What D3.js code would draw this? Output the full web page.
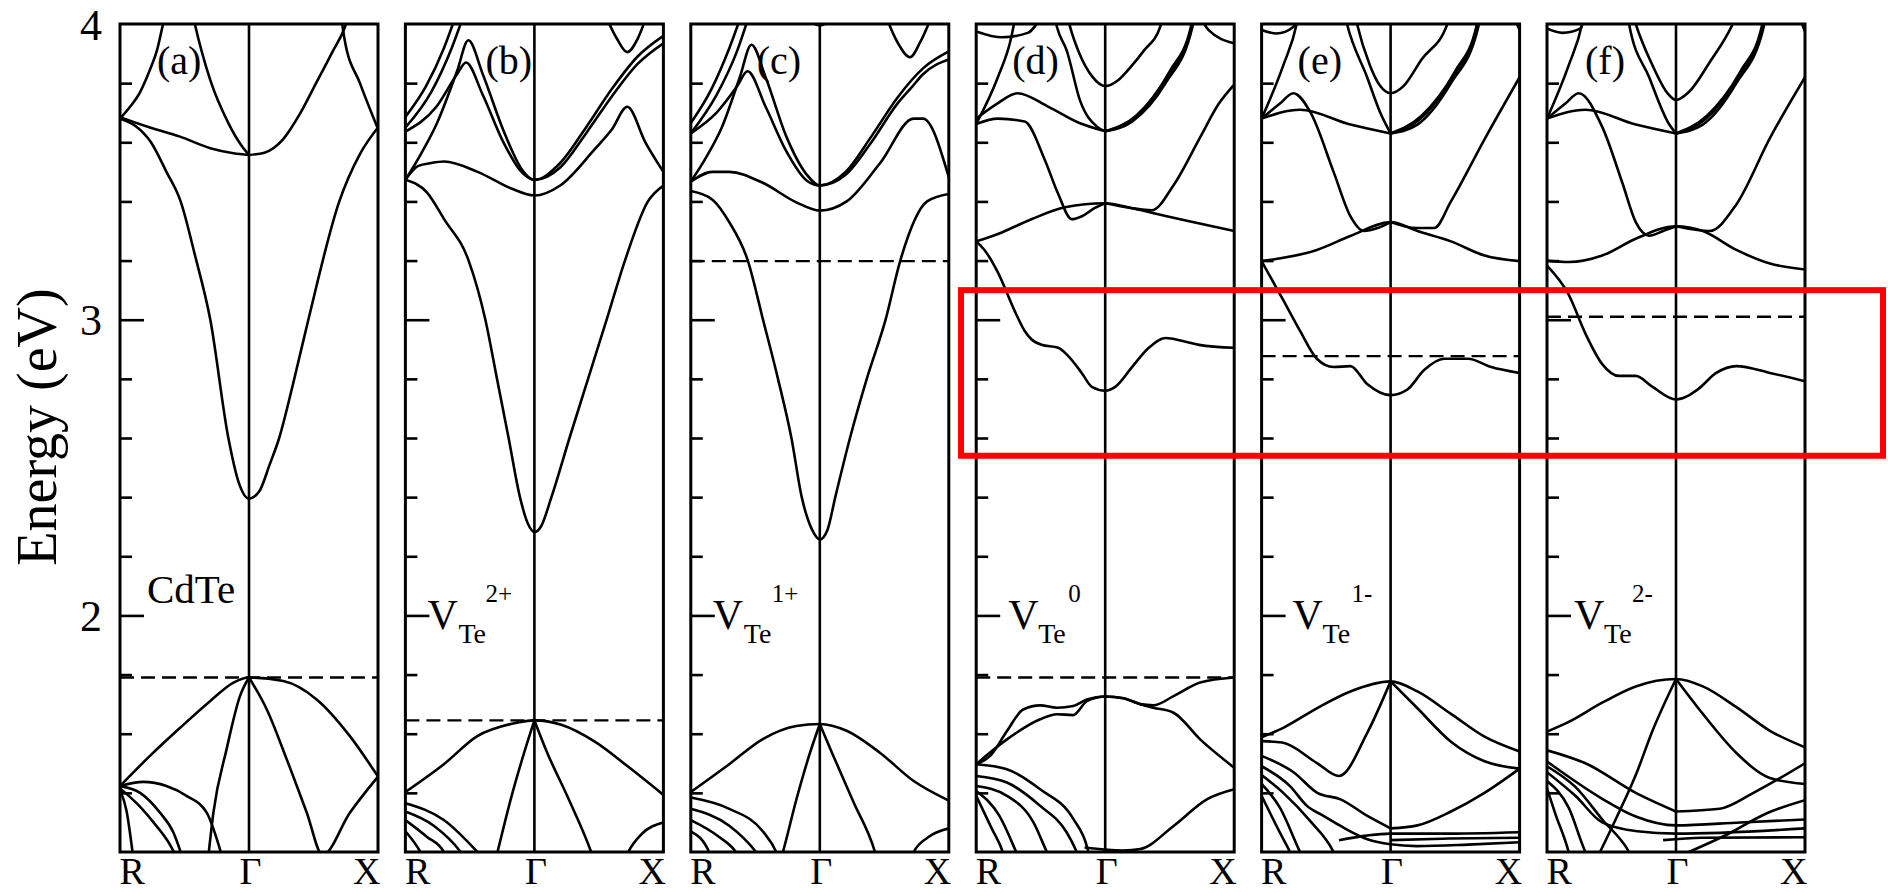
<!DOCTYPE html>
<html>
<head>
<meta charset="utf-8">
<script src="https://cdn.jsdelivr.net/npm/d3@7/dist/d3.min.js"></script>
<style>
  body { margin: 0; background: #fff; }
  svg text { font-family: "Liberation Serif", "Times New Roman", serif; fill: #000; }
</style>
</head>
<body>
<svg id="chart" width="1888" height="893"></svg>
<script>
// ---- data (k: R=0, Gamma=0.5, X=1; energies in eV) ----
const kLabels = ["R", "\u0393", "X"];
const kTicks = [0, 0.5, 1];
const majorTicks = [2, 3, 4];
const minorTicks = [1.4, 1.6, 1.8, 2.2, 2.4, 2.6, 2.8, 3.2, 3.4, 3.6, 3.8];
const panelLetters = ["(a)", "(b)", "(c)", "(d)", "(e)", "(f)"];
const charges = [null, "2+", "1+", "0", "1-", "2-"];
const fermiLevels = [1.79, 1.645, 3.198, 1.79, 2.877, 3.01];
const highlightRange = [2.54, 3.1];

const bandsA = [
  [[0,3.68],[0.06,3.655],[0.12,3.6],[0.18,3.5],[0.235,3.4],[0.29,3.22],[0.35,3.0],[0.42,2.6],[0.46,2.45],[0.5,2.395],[0.54,2.42],[0.58,2.51],[0.617,2.6],[0.67,2.78],[0.73,3.0],[0.85,3.4],[0.93,3.56],[1,3.65]],
  [[0,3.685],[0.116,3.65],[0.23,3.62],[0.35,3.58],[0.44,3.563],[0.5,3.557]],
  [[0,3.68],[0.039,3.72],[0.078,3.77],[0.116,3.845],[0.143,3.91],[0.167,4.0],[0.19,4.08]],
  [[0.27,4.08],[0.29,4.0],[0.35,3.81],[0.42,3.665],[0.47,3.59],[0.5,3.557]],
  [[0.5,3.557],[0.56,3.565],[0.632,3.61],[0.7,3.7],[0.76,3.8],[0.826,3.91],[0.872,3.99],[0.89,4.04]],
  [[0.855,4.04],[0.87,3.95],[0.93,3.8],[1,3.645]],
  [[0,1.423],[0.116,1.525],[0.233,1.62],[0.349,1.71],[0.44,1.773],[0.5,1.79],[0.633,1.778],[0.762,1.716],[0.891,1.592],[1,1.455]],
  [[0.343,1.19],[0.362,1.333],[0.413,1.547],[0.465,1.727],[0.5,1.79]],
  [[0.5,1.79],[0.569,1.682],[0.646,1.514],[0.724,1.333],[0.785,1.19],[0.891,1.333],[1,1.455]],
  [[0,1.423],[0.09,1.437],[0.18,1.423],[0.258,1.39],[0.336,1.333],[0.394,1.19]],
  [[0,1.423],[0.078,1.4],[0.155,1.333],[0.207,1.266],[0.239,1.19]],
  [[0,1.415],[0.07,1.36],[0.13,1.3],[0.19,1.23],[0.215,1.19]],
  [[0,1.41],[0.025,1.34],[0.05,1.19]]
];

const bandsB = [
  [[0,3.473],[0.084,3.43],[0.15,3.34],[0.245,3.2],[0.31,3.0],[0.355,2.8],[0.4,2.6],[0.444,2.4],[0.475,2.31],[0.5,2.282],[0.525,2.3],[0.566,2.4],[0.636,2.6],[0.708,2.8],[0.78,3.0],[0.851,3.2],[0.94,3.4],[1,3.454]],
  [[0,3.473],[0.05,3.52],[0.1,3.53],[0.15,3.535],[0.28,3.5],[0.41,3.444],[0.5,3.42],[0.6,3.454],[0.734,3.577],[0.8,3.643],[0.86,3.72],[0.93,3.6],[1,3.5]],
  [[0,3.473],[0.06,3.56],[0.12,3.66],[0.2,3.84],[0.244,3.945],[0.3,3.83],[0.38,3.64],[0.45,3.51],[0.5,3.473],[0.6,3.53],[0.7,3.65],[0.8,3.78],[0.9,3.89],[1,3.96]],
  [[0,3.636],[0.12,3.72],[0.2,3.83],[0.235,3.87],[0.3,3.76],[0.38,3.6],[0.45,3.5],[0.5,3.473],[0.6,3.515],[0.7,3.63],[0.8,3.755],[0.9,3.865],[1,3.935]],
  [[0,3.686],[0.08,3.79],[0.15,3.92],[0.2,4.04]],
  [[0,3.65],[0.1,3.77],[0.18,3.92],[0.23,4.04]],
  [[0.77,4.04],[0.82,3.95],[0.86,3.905],[0.9,3.95],[0.94,4.04]],
  [[0,1.403],[0.149,1.497],[0.279,1.592],[0.409,1.633],[0.5,1.645],[0.604,1.63],[0.734,1.573],[0.864,1.488],[1,1.393]],
  [[0.34,1.14],[0.357,1.2],[0.41,1.384],[0.46,1.535],[0.5,1.645]],
  [[0.5,1.645],[0.55,1.535],[0.63,1.384],[0.72,1.2],[0.74,1.15]],
  [[0.84,1.15],[0.864,1.2],[0.915,1.26],[1,1.3]],
  [[0,1.365],[0.149,1.308],[0.279,1.2],[0.3,1.18]],
  [[0,1.337],[0.11,1.289],[0.214,1.2],[0.23,1.18]],
  [[0,1.308],[0.084,1.251],[0.149,1.2],[0.16,1.18]],
  [[0,1.27],[0.058,1.2],[0.07,1.18]]
];

const bandsC = [
  [[0,3.435],[0.084,3.406],[0.149,3.33],[0.221,3.2],[0.28,3.0],[0.338,2.8],[0.39,2.6],[0.43,2.4],[0.47,2.29],[0.5,2.257],[0.53,2.29],[0.56,2.4],[0.617,2.6],[0.682,2.8],[0.755,3.0],[0.812,3.2],[0.916,3.4],[1,3.425]],
  [[0,3.467],[0.084,3.5],[0.149,3.5],[0.279,3.463],[0.409,3.397],[0.5,3.369],[0.604,3.4],[0.734,3.53],[0.864,3.68],[0.9,3.68],[1,3.482]],
  [[0,3.467],[0.06,3.55],[0.12,3.65],[0.19,3.82],[0.235,3.93],[0.29,3.82],[0.37,3.62],[0.45,3.49],[0.5,3.454],[0.6,3.5],[0.7,3.62],[0.8,3.75],[0.9,3.85],[1,3.907]],
  [[0,3.63],[0.1,3.7],[0.18,3.79],[0.22,3.84],[0.29,3.72],[0.37,3.57],[0.45,3.47],[0.5,3.454],[0.6,3.49],[0.7,3.6],[0.8,3.73],[0.86,3.79],[0.9,3.83],[1,3.88]],
  [[0,3.665],[0.08,3.78],[0.15,3.92],[0.2,4.04]],
  [[0,3.63],[0.1,3.76],[0.18,3.91],[0.23,4.04]],
  [[0.75,4.04],[0.8,3.94],[0.85,3.888],[0.89,3.94],[0.94,4.04]],
  [[0.44,4.03],[0.5,3.995],[0.56,4.03]],
  [[0,1.403],[0.149,1.497],[0.279,1.582],[0.409,1.626],[0.5,1.633],[0.604,1.61],[0.734,1.535],[0.864,1.44],[1,1.374]],
  [[0.34,1.15],[0.357,1.2],[0.41,1.38],[0.46,1.53],[0.5,1.633]],
  [[0.5,1.633],[0.55,1.53],[0.63,1.37],[0.714,1.2],[0.73,1.15]],
  [[0.84,1.15],[0.864,1.2],[0.92,1.25],[1,1.28]],
  [[0,1.384],[0.149,1.346],[0.279,1.27],[0.331,1.2],[0.34,1.18]],
  [[0,1.346],[0.149,1.289],[0.253,1.2],[0.27,1.18]],
  [[0,1.308],[0.11,1.251],[0.175,1.2],[0.19,1.18]],
  [[0,1.27],[0.071,1.2],[0.08,1.18]]
];

const bandsD = [
  [[0,3.265],[0.032,3.236],[0.084,3.16],[0.149,3.03],[0.188,2.962],[0.214,2.934],[0.253,2.915],[0.318,2.905],[0.357,2.877],[0.409,2.82],[0.448,2.773],[0.5,2.76],[0.539,2.773],[0.604,2.84],[0.669,2.905],[0.734,2.938],[0.8,2.928],[0.864,2.915],[1,2.905]],
  [[0,3.265],[0.084,3.29],[0.214,3.34],[0.344,3.38],[0.5,3.394],[0.6,3.378],[0.68,3.362],[0.83,3.332],[1,3.3]],
  [[0,3.662],[0.084,3.68],[0.188,3.67],[0.266,3.54],[0.318,3.425],[0.37,3.34],[0.41,3.35],[0.46,3.378],[0.5,3.394]],
  [[0.5,3.394],[0.6,3.378],[0.68,3.37],[0.765,3.455],[0.87,3.62],[0.94,3.73],[1,3.795]],
  [[0,3.68],[0.08,3.73],[0.16,3.766],[0.28,3.72],[0.4,3.665],[0.5,3.637]],
  [[0.3,4.04],[0.313,3.99],[0.351,3.91],[0.403,3.74],[0.468,3.653],[0.5,3.637]],
  [[0.35,4.04],[0.364,3.99],[0.4,3.9],[0.45,3.822],[0.5,3.79],[0.55,3.81],[0.6,3.856],[0.65,3.91],[0.713,3.99],[0.73,4.04]],
  [[0.5,3.637],[0.604,3.67],[0.734,3.8],[0.838,3.99],[0.85,4.04]],
  [[0.5,3.637],[0.61,3.68],[0.74,3.82],[0.835,3.99],[0.845,4.04]],
  [[0.5,3.637],[0.62,3.69],[0.75,3.84],[0.832,3.99],[0.84,4.04]],
  [[0,3.662],[0.084,3.82],[0.136,3.955],[0.155,4.04]],
  [[0,3.975],[0.1,3.955],[0.2,3.97],[0.26,4.04]],
  [[0.86,4.04],[0.9,3.98],[1,3.935]],
  [[0,1.497],[0.054,1.525],[0.12,1.61],[0.182,1.682],[0.248,1.696],[0.313,1.688],[0.376,1.694],[0.429,1.716],[0.5,1.726],[0.571,1.72],[0.636,1.7],[0.687,1.696],[0.765,1.727],[0.868,1.773],[1,1.79]],
  [[0,1.497],[0.119,1.581],[0.248,1.649],[0.313,1.666],[0.375,1.663],[0.429,1.71],[0.5,1.726],[0.571,1.72],[0.636,1.7],[0.687,1.688],[0.765,1.671],[0.868,1.581],[1,1.485]],
  [[0.42,1.215],[0.5,1.208],[0.57,1.205],[0.636,1.21],[0.765,1.288],[0.894,1.378],[1,1.412]],
  [[0,1.497],[0.119,1.48],[0.248,1.412],[0.377,1.311],[0.43,1.216],[0.44,1.18]],
  [[0,1.457],[0.119,1.435],[0.248,1.356],[0.351,1.266],[0.39,1.2],[0.4,1.18]],
  [[0,1.423],[0.119,1.39],[0.222,1.3],[0.274,1.2],[0.285,1.18]],
  [[0,1.406],[0.09,1.322],[0.155,1.2],[0.165,1.18]],
  [[0,1.39],[0.06,1.28],[0.103,1.2],[0.11,1.18]]
];

const bandsE = [
  [[0,3.198],[0.084,3.066],[0.149,2.962],[0.214,2.868],[0.279,2.84],[0.344,2.843],[0.409,2.783],[0.5,2.745],[0.565,2.764],[0.63,2.83],[0.708,2.868],[0.8,2.868],[0.89,2.84],[1,2.82]],
  [[0,3.198],[0.214,3.236],[0.344,3.283],[0.5,3.33],[0.604,3.3],[0.734,3.265],[0.864,3.217],[1,3.198]],
  [[0,3.68],[0.07,3.73],[0.123,3.766],[0.19,3.7],[0.279,3.5],[0.344,3.35],[0.396,3.3],[0.45,3.31],[0.5,3.33]],
  [[0.5,3.33],[0.6,3.31],[0.669,3.31],[0.734,3.4],[0.864,3.61],[1,3.82]],
  [[0,3.68],[0.149,3.71],[0.344,3.66],[0.5,3.63]],
  [[0.32,4.04],[0.331,4.0],[0.409,3.82],[0.46,3.7],[0.5,3.63]],
  [[0.36,4.04],[0.37,4.0],[0.42,3.86],[0.46,3.79],[0.5,3.766],[0.55,3.79],[0.62,3.88],[0.72,4.0],[0.735,4.04]],
  [[0.5,3.63],[0.604,3.66],[0.734,3.8],[0.84,3.99],[0.85,4.04]],
  [[0.5,3.63],[0.61,3.675],[0.74,3.82],[0.836,3.99],[0.845,4.04]],
  [[0.5,3.63],[0.62,3.69],[0.75,3.84],[0.832,3.99],[0.84,4.04]],
  [[0,3.68],[0.084,3.86],[0.136,4.0],[0.145,4.04]],
  [[0,3.98],[0.058,3.968],[0.123,3.99],[0.14,4.04]],
  [[0.97,4.04],[1,3.98]],
  [[0,1.588],[0.084,1.62],[0.214,1.686],[0.344,1.743],[0.5,1.777],[0.604,1.743],[0.734,1.667],[0.864,1.59],[1,1.54]],
  [[0,1.575],[0.08,1.57],[0.216,1.5],[0.3,1.457],[0.41,1.604],[0.5,1.777]],
  [[0.5,1.777],[0.604,1.686],[0.734,1.573],[0.864,1.507],[1,1.482]],
  [[0.5,1.28],[0.604,1.29],[0.734,1.337],[0.864,1.4],[1,1.482]],
  [[0,1.525],[0.125,1.469],[0.216,1.4],[0.306,1.378],[0.41,1.322],[0.5,1.28]],
  [[0,1.49],[0.11,1.423],[0.176,1.356],[0.24,1.322],[0.306,1.288],[0.41,1.243],[0.5,1.226],[0.6,1.22],[0.8,1.225],[1,1.233]],
  [[0.3,1.24],[0.5,1.262],[0.7,1.262],[1,1.267]],
  [[0.5,1.24],[0.7,1.245],[1,1.248]],
  [[0,1.46],[0.084,1.4],[0.188,1.305],[0.279,1.2],[0.29,1.18]],
  [[0,1.43],[0.071,1.35],[0.149,1.2],[0.16,1.18]],
  [[0,1.39],[0.07,1.267],[0.11,1.2],[0.12,1.18]]
];

const bandsF = [
  [[0,3.183],[0.084,3.085],[0.149,2.953],[0.214,2.85],[0.279,2.81],[0.344,2.81],[0.409,2.773],[0.5,2.73],[0.584,2.764],[0.656,2.82],[0.734,2.843],[0.864,2.82],[1,2.792]],
  [[0,3.2],[0.084,3.195],[0.214,3.217],[0.344,3.274],[0.5,3.316],[0.604,3.3],[0.734,3.236],[0.864,3.19],[1,3.17]],
  [[0,3.68],[0.07,3.73],[0.123,3.766],[0.214,3.652],[0.292,3.463],[0.344,3.33],[0.396,3.284],[0.45,3.3],[0.5,3.316]],
  [[0.5,3.316],[0.63,3.3],[0.734,3.39],[0.864,3.614],[1,3.82]],
  [[0,3.68],[0.149,3.71],[0.344,3.66],[0.5,3.63]],
  [[0.31,4.04],[0.318,4.0],[0.396,3.82],[0.474,3.66],[0.5,3.63]],
  [[0.33,4.04],[0.344,4.0],[0.409,3.86],[0.468,3.765],[0.5,3.743],[0.55,3.77],[0.63,3.87],[0.72,4.0],[0.74,4.04]],
  [[0.5,3.63],[0.604,3.66],[0.734,3.8],[0.84,3.99],[0.85,4.04]],
  [[0.5,3.63],[0.61,3.675],[0.74,3.82],[0.836,3.99],[0.845,4.04]],
  [[0.5,3.63],[0.62,3.69],[0.75,3.84],[0.832,3.99],[0.84,4.04]],
  [[0,3.68],[0.084,3.86],[0.136,4.0],[0.145,4.04]],
  [[0,3.985],[0.06,3.97],[0.13,3.985],[0.15,4.04]],
  [[0.97,4.04],[1,3.975]],
  [[0,1.607],[0.084,1.64],[0.214,1.705],[0.344,1.76],[0.5,1.785],[0.604,1.76],[0.734,1.69],[0.864,1.61],[1,1.554]],
  [[0.2,1.19],[0.266,1.31],[0.344,1.46],[0.409,1.61],[0.5,1.785]],
  [[0.5,1.785],[0.604,1.667],[0.734,1.535],[0.864,1.45],[1,1.43]],
  [[0.5,1.337],[0.669,1.346],[0.8,1.4],[1,1.5]],
  [[0,1.544],[0.149,1.5],[0.344,1.4],[0.5,1.337]],
  [[0,1.506],[0.214,1.38],[0.344,1.32],[0.5,1.29],[0.75,1.3],[1,1.31]],
  [[0,1.47],[0.11,1.39],[0.214,1.3],[0.35,1.27],[0.5,1.262],[1,1.28]],
  [[0.45,1.24],[0.6,1.248],[1,1.25]],
  [[0.55,1.2],[0.7,1.26],[0.85,1.33],[1,1.375]],
  [[0,1.49],[0.11,1.42],[0.214,1.31],[0.318,1.2],[0.33,1.18]],
  [[0,1.44],[0.084,1.35],[0.149,1.2],[0.16,1.18]],
  [[0,1.415],[0.032,1.33],[0.084,1.2],[0.09,1.18]]
];

const panelBands = [bandsA, bandsB, bandsC, bandsD, bandsE, bandsF];

// ---- layout ----
const svg = d3.select("#chart");
const panelW = 258;
const plotTop = 24, plotBottom = 852;
const lefts = d3.range(6).map(i => 120 + i * 285.4);

const x = d3.scaleLinear().domain([0, 1]).range([0, panelW]);
const y = d3.scaleLinear().domain([1.2, 4]).range([plotBottom, plotTop]);

const line = d3.line()
  .x(d => x(d[0]))
  .y(d => y(d[1]))
  .curve(d3.curveMonotoneX);

// label placement inside each panel: [letter x, V x, Te x, charge x]
const labelPos = [
  [37, 27, 0, 0],
  [80, 22, 53, 80],
  [66, 22, 53, 81],
  [36, 32, 62, 92],
  [36, 31, 61, 90],
  [38, 27, 57, 85]
];

const defs = svg.append("defs");

panelBands.forEach((bands, i) => {
  const g = svg.append("g").attr("transform", `translate(${lefts[i]},0)`);

  defs.append("clipPath").attr("id", "clip" + i)
    .append("rect")
    .attr("x", 0).attr("y", plotTop)
    .attr("width", panelW).attr("height", plotBottom - plotTop);

  // Fermi / highest occupied level
  g.append("line")
    .attr("x1", x(0)).attr("x2", x(1))
    .attr("y1", y(fermiLevels[i])).attr("y2", y(fermiLevels[i]))
    .attr("stroke", "#000").attr("stroke-width", 2.4)
    .attr("stroke-dasharray", "14,7");

  // bands
  g.append("g").attr("clip-path", `url(#clip${i})`)
    .selectAll("path")
    .data(bands)
    .join("path")
    .attr("d", line)
    .attr("fill", "none")
    .attr("stroke", "#000")
    .attr("stroke-width", 2.6);

  // Gamma line
  g.append("line")
    .attr("x1", x(0.5)).attr("x2", x(0.5))
    .attr("y1", plotTop).attr("y2", plotBottom)
    .attr("stroke", "#000").attr("stroke-width", 2.6);

  // inward ticks on the left edge
  const minorAxis = d3.axisRight(y).tickValues(minorTicks).tickSize(12).tickFormat("");
  const majorAxis = d3.axisRight(y).tickValues([2, 3]).tickSize(24).tickFormat("");
  [minorAxis, majorAxis].forEach(ax => {
    const a = g.append("g").call(ax);
    a.select(".domain").remove();
    a.selectAll("line").attr("stroke", "#000").attr("stroke-width", 2.6);
  });

  // frame
  g.append("rect")
    .attr("x", 0).attr("y", plotTop)
    .attr("width", panelW).attr("height", plotBottom - plotTop)
    .attr("fill", "none").attr("stroke", "#000").attr("stroke-width", 3);

  // k-point labels
  const kAxis = g.append("g")
    .attr("transform", `translate(0,${plotBottom})`)
    .call(d3.axisBottom(x).tickValues(kTicks).tickSize(0)
      .tickFormat((d, j) => kLabels[j]));
  kAxis.select(".domain").remove();
  kAxis.selectAll("text")
    .style("font-size", "38px")
    .attr("y", 32)
    .attr("dy", 0)
    .attr("text-anchor", (d, j) => j === 0 ? "start" : j === 2 ? "end" : "middle")
    .attr("x", (d, j) => j === 0 ? -1 : j === 2 ? 2 : 1);

  // panel letter
  g.append("text")
    .attr("x", labelPos[i][0]).attr("y", 74)
    .style("font-size", "40px")
    .text(panelLetters[i]);

  // system label
  if (charges[i] === null) {
    g.append("text")
      .attr("x", labelPos[i][1]).attr("y", 603)
      .style("font-size", "41px")
      .text("CdTe");
  } else {
    g.append("text").attr("x", labelPos[i][1]).attr("y", 629)
      .style("font-size", "42px").text("V");
    g.append("text").attr("x", labelPos[i][2]).attr("y", 643)
      .style("font-size", "28px").text("Te");
    g.append("text").attr("x", labelPos[i][3]).attr("y", 602)
      .style("font-size", "25px").text(charges[i]);
  }
});

// y tick labels (only on the first panel)
const yAxis = svg.append("g")
  .attr("transform", `translate(${lefts[0]},0)`)
  .call(d3.axisLeft(y).tickValues(majorTicks).tickSize(0).tickPadding(18).tickFormat(d3.format("d")));
yAxis.select(".domain").remove();
yAxis.selectAll("text").style("font-size", "44px").attr("dy", 15);

svg.append("text")
  .attr("transform", "translate(56,427) rotate(-90)")
  .attr("text-anchor", "middle")
  .style("font-size", "56px")
  .text("Energy (eV)");

// red highlight box around the defect band
svg.append("rect")
  .attr("x", 961).attr("y", y(highlightRange[1]))
  .attr("width", 1883 - 961)
  .attr("height", y(highlightRange[0]) - y(highlightRange[1]))
  .attr("fill", "none")
  .attr("stroke", "#ff0000")
  .attr("stroke-width", 6);
</script>
</body>
</html>
